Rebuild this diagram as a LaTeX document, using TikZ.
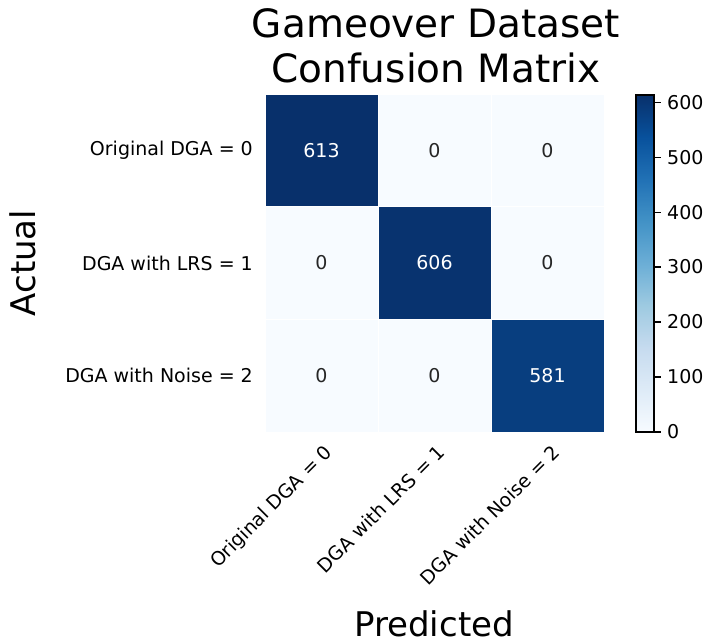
\documentclass[tikz,border=0pt]{standalone}
\usepackage{fontspec}
\setmainfont{DejaVu Sans}
\definecolor{bA}{HTML}{F7FBFF}
\definecolor{bB}{HTML}{DEEBF7}
\definecolor{bC}{HTML}{C6DBEF}
\definecolor{bD}{HTML}{9ECAE1}
\definecolor{bE}{HTML}{6BAED6}
\definecolor{bF}{HTML}{4292C6}
\definecolor{bG}{HTML}{2171B5}
\definecolor{bH}{HTML}{08519C}
\definecolor{bI}{HTML}{08306B}
\definecolor{vHi}{HTML}{08306B}
\definecolor{vMid}{HTML}{08336F}
\definecolor{vLo}{HTML}{083E7F}
\definecolor{dark}{HTML}{262626}
\begin{document}
\begin{tikzpicture}[x=1pt,y=-1pt,
  cell/.style={draw=white,line width=0.5pt,minimum width=113pt,minimum height=112.7pt,inner sep=0pt,
    font=\fontsize{19}{23}\selectfont},
  darkcell/.style={cell,fill=#1,text=white},
  lightcell/.style={cell,fill=bA,text=dark},
  ticklab/.style={font=\fontsize{19}{23}\selectfont,inner sep=0pt,text=black},
  axlab/.style={font=\fontsize{34}{40}\selectfont,inner sep=0pt},
  titlab/.style={font=\fontsize{39}{46}\selectfont,inner sep=0pt},
  cbtick/.style={line width=1.2pt}]
\useasboundingbox (0,0) rectangle (707,643);
% title
\node[titlab,anchor=base] (t1) at (436,37) {Gameover Dataset};
\node[titlab,anchor=base] (t2) at (436,82) {Confusion Matrix};
% cells
\node[darkcell=vHi] (c00) at (321.5,150.3) {613};
\node[lightcell] (c01) at (434.5,150.3) {0};
\node[lightcell] (c02) at (547.5,150.3) {0};
\node[lightcell] (c10) at (321.5,263) {0};
\node[darkcell=vMid] (c11) at (434.5,263) {606};
\node[lightcell] (c12) at (547.5,263) {0};
\node[lightcell] (c20) at (321.5,375.7) {0};
\node[lightcell] (c21) at (434.5,375.7) {0};
\node[darkcell=vLo] (c22) at (547.5,375.7) {581};
% y tick labels
\node[ticklab,anchor=east] (y0) at (253,150.3) {Original DGA = 0};
\node[ticklab,anchor=east] (y1) at (253,263) {DGA with LRS = 1};
\node[ticklab,anchor=east] (y2) at (253,375.7) {DGA with Noise = 2};
% x tick labels
\node[ticklab,rotate=45,anchor=north east] (x0) at (323,443) {Original DGA = 0};
\node[ticklab,rotate=45,anchor=north east] (x1) at (436,443) {DGA with LRS = 1};
\node[ticklab,rotate=45,anchor=north east] (x2) at (551,443) {DGA with Noise = 2};
% axis labels
\node[axlab,rotate=90,anchor=base] (ya) at (35,263) {Actual};
\node[axlab,anchor=base] (xa) at (434,636) {Predicted};
% colorbar
\shade[bottom color=bA,top color=bB] (636,432) rectangle (654,389.875);
\shade[bottom color=bB,top color=bC] (636,389.875) rectangle (654,347.75);
\shade[bottom color=bC,top color=bD] (636,347.75) rectangle (654,305.625);
\shade[bottom color=bD,top color=bE] (636,305.625) rectangle (654,263.5);
\shade[bottom color=bE,top color=bF] (636,263.5) rectangle (654,221.375);
\shade[bottom color=bF,top color=bG] (636,221.375) rectangle (654,179.25);
\shade[bottom color=bG,top color=bH] (636,179.25) rectangle (654,137.125);
\shade[bottom color=bH,top color=bI] (636,137.125) rectangle (654,95);
\draw[line width=1.2pt] (636,95) rectangle (654,432);
\foreach \v in {0,100,200,300,400,500,600}{
  \pgfmathsetmacro{\yy}{432-\v/613*337}
  \draw[cbtick] (654,\yy) -- (661,\yy);
  \node[ticklab,anchor=west] (cb\v) at (667,\yy) {\v};
}
\end{tikzpicture}
\end{document}
